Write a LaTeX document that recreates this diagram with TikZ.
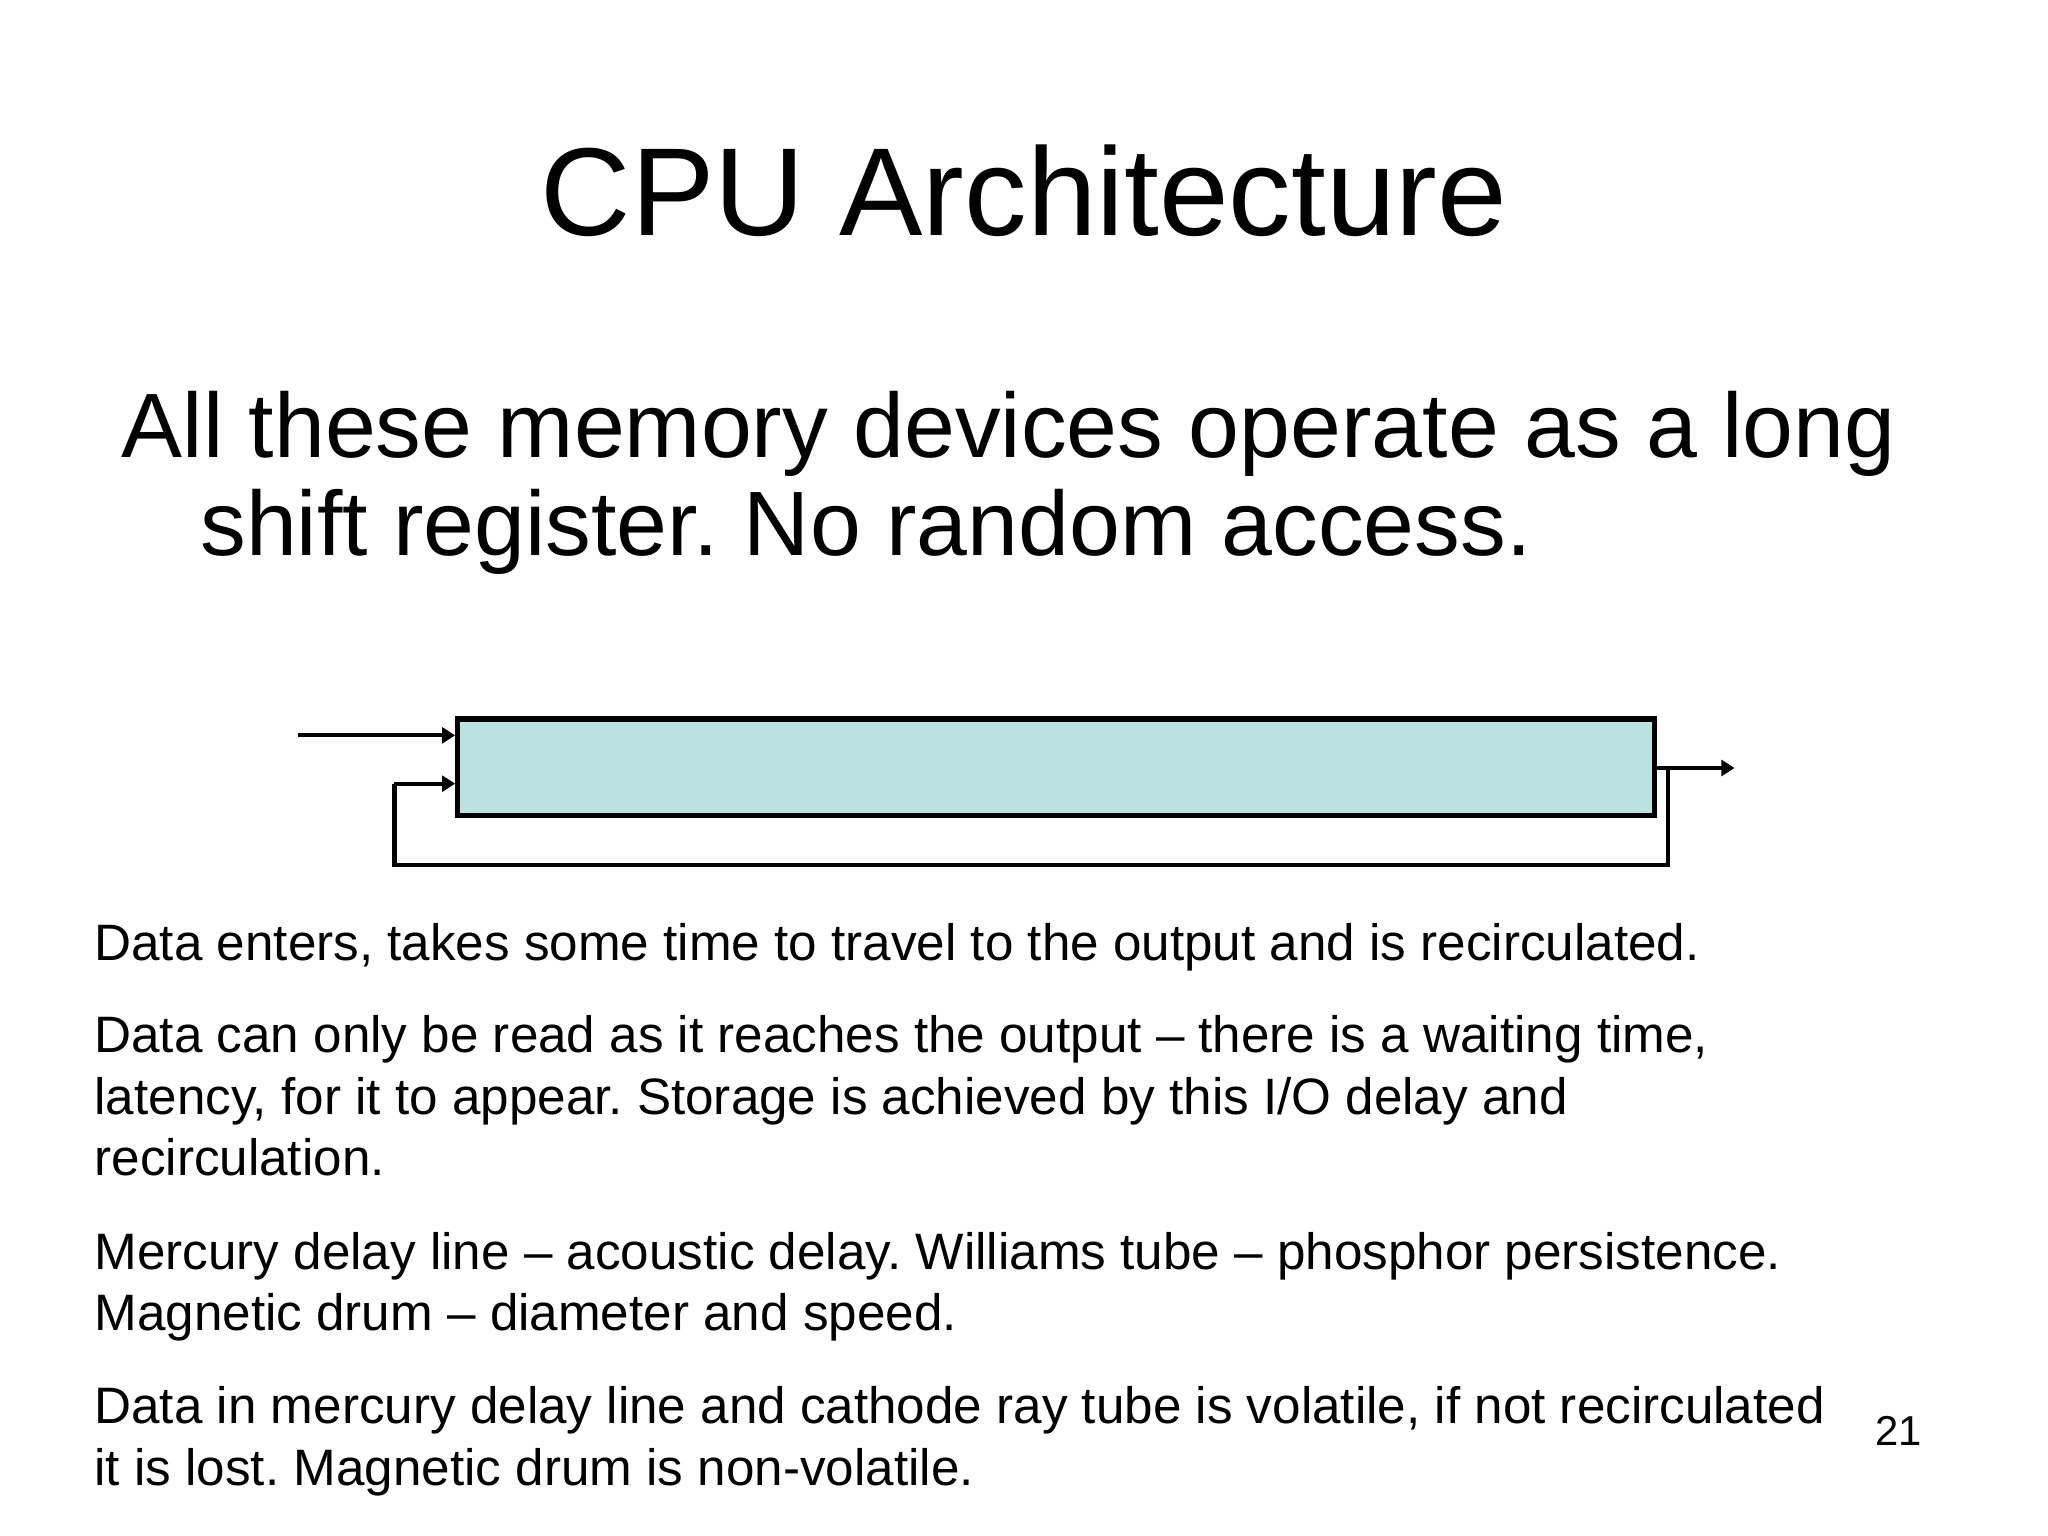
\documentclass[tikz,border=0pt]{standalone}
\usepackage{fontspec}
\setmainfont{Liberation Sans}
\usetikzlibrary{arrows.meta}
\frenchspacing
\begin{document}
\begin{tikzpicture}[x=0.5pt,y=-0.5pt,
  body/.style={anchor=base west,inner sep=0pt,font=\fontsize{19.6}{24}\selectfont},
  line/.style={line width=1.6pt},
  arr/.style={line width=1.6pt,-{Triangle[length=5pt,width=6pt]}}]
\useasboundingbox (0,0) rectangle (1568,1176);
\node[anchor=base,inner sep=0pt,font=\fontsize{47.9}{56}\selectfont] (title) at (784,180) {CPU Architecture};
\node[anchor=base west,inner sep=0pt,font=\fontsize{35}{40}\selectfont] (s1) at (93,350) {All these memory devices operate as a long};
\node[anchor=base west,inner sep=0pt,font=\fontsize{35}{40}\selectfont] (s2) at (153,425) {shift register. No random access.};
\node[draw,line width=2pt,fill={rgb,255:red,185;green,226;blue,224},minimum width=458pt,minimum height=37pt,inner sep=0pt] (reg) at (808.5,587.5) {};
\coordinate (in) at (228,563);
\coordinate (out) at (1328,588);
\coordinate (fb1) at (1277,588);
\coordinate (fb2) at (1277,662);
\coordinate (fb3) at (302,662);
\coordinate (fb4) at (302,600);
\draw[arr] (in) -- (in -| reg.west);
\draw[arr] (fb1 -| reg.east) -- (out);
\draw[line] (fb1) -- (fb2) -- (fb3) -- (fb4);
\draw[arr] (fb4) -- (fb4 -| reg.west);
\node[body] (p1) at (72,735) {Data enters, takes some time to travel to the output and is recirculated.};
\node[body] (p2a) at (72,806) {Data can only be read as it reaches the output – there is a waiting time,};
\node[body] (p2b) at (72,853) {latency, for it to appear. Storage is achieved by this I/O delay and};
\node[body] (p2c) at (72,900) {recirculation.};
\node[body] (p3a) at (72,972) {Mercury delay line – acoustic delay. Williams tube – phosphor persistence.};
\node[body] (p3b) at (72,1019) {Magnetic drum – diameter and speed.};
\node[body] (p4a) at (72,1090) {Data in mercury delay line and cathode ray tube is volatile, if not recirculated};
\node[body] (p4b) at (72,1137) {it is lost. Magnetic drum is non-volatile.};
\node[anchor=base east,inner sep=0pt,font=\fontsize{16}{18}\selectfont] (pg) at (1472,1107) {21};
\end{tikzpicture}
\end{document}
